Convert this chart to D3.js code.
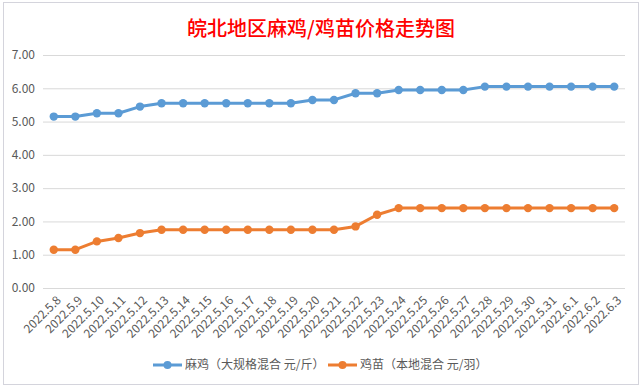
<!DOCTYPE html>
<html>
<head>
<meta charset="utf-8">
<script src="https://cdn.jsdelivr.net/npm/d3@7"></script>
<style>
body{margin:0;background:#fff;}
text{font-family:"Noto Sans CJK SC","Noto Sans",sans-serif;}
</style>
</head>
<body>
<svg id="chart" width="642" height="388"></svg>
<script>
var dates = ["2022.5.8","2022.5.9","2022.5.10","2022.5.11","2022.5.12","2022.5.13","2022.5.14",
    "2022.5.15","2022.5.16","2022.5.17","2022.5.18","2022.5.19","2022.5.20","2022.5.21",
    "2022.5.22","2022.5.23","2022.5.24","2022.5.25","2022.5.26","2022.5.27","2022.5.28",
    "2022.5.29","2022.5.30","2022.5.31","2022.6.1","2022.6.2","2022.6.3"]
var maji = [5.15,5.15,5.25,5.25,5.45,5.55,5.55,5.55,5.55,5.55,5.55,5.55,5.65,5.65,
    5.85,5.85,5.95,5.95,5.95,5.95,6.05,6.05,6.05,6.05,6.05,6.05,6.05]
var jimiao = [1.15,1.15,1.4,1.5,1.65,1.75,1.75,1.75,1.75,1.75,1.75,1.75,1.75,1.75,
    1.85,2.2,2.4,2.4,2.4,2.4,2.4,2.4,2.4,2.4,2.4,2.4,2.4]
var yTicks = [0,1,2,3,4,5,6,7]
var seriesNames = ["麻鸡（大规格混合 元/斤）","鸡苗（本地混合 元/羽）"]
var colors = ["#5b9bd5","#ed7d31"]

var svg = d3.select("#chart")

// chart frame
svg.append("rect").attr("x",3.5).attr("y",2.5).attr("width",635).attr("height",382)
    .attr("fill","#fff").attr("stroke","#d4d4dc")

svg.append("text").text("皖北地区麻鸡/鸡苗价格走势图")
    .attr("x",321).attr("y",36).attr("text-anchor","middle")
    .attr("fill","#ff0000").attr("font-size",20).attr("font-weight",500)

var xScale = d3.scaleBand().domain(dates).range([43,625])
var yScale = d3.scaleLinear().domain([0,7]).range([288,55])

var yAxis = d3.axisLeft(yScale).tickValues(yTicks)
    .tickFormat(d3.format(".2f"))
    .tickSize(-(625-43)).tickPadding(8)
var gy = svg.append("g").attr("transform","translate(43,0)").call(yAxis)
gy.select(".domain").remove()
gy.selectAll("line").attr("stroke","#d9d9d9")
gy.selectAll("text").attr("fill","#595959").attr("font-size",12)

var xAxis = d3.axisBottom(xScale).tickSize(0).tickPadding(0)
var gx = svg.append("g").attr("transform","translate(0,288)").call(xAxis)
gx.select(".domain").remove()
gx.selectAll("text")
    .attr("fill","#595959").attr("font-size",12)
    .attr("text-anchor","end")
    .attr("dy","0.35em")
    .attr("transform","translate(5,10) rotate(-45)")

var line = d3.line()
    .x(function(d,i){return xScale(dates[i]) + xScale.bandwidth()/2})
    .y(function(d){return yScale(d)})

;[maji,jimiao].forEach(function(s,k){
    svg.append("path").datum(s)
        .attr("d",line).attr("fill","none")
        .attr("stroke",colors[k]).attr("stroke-width",3)
        .attr("stroke-linejoin","round")
    svg.selectAll(".dot"+k).data(s).enter().append("circle")
        .attr("class","dot"+k)
        .attr("cx",function(d,i){return xScale(dates[i]) + xScale.bandwidth()/2})
        .attr("cy",function(d){return yScale(d)})
        .attr("r",4.2).attr("fill",colors[k])
})

// legend
var legendX = [153,328]
seriesNames.forEach(function(n,k){
    var g = svg.append("g").attr("transform","translate("+legendX[k]+",365)")
    g.append("line").attr("x1",0).attr("x2",29).attr("stroke",colors[k]).attr("stroke-width",3)
    g.append("circle").attr("cx",14.5).attr("r",4).attr("fill",colors[k])
    g.append("text").text(n).attr("x",32).attr("dy","0.35em")
        .attr("fill","#595959").attr("font-size",12)
})
</script>
</body>
</html>
